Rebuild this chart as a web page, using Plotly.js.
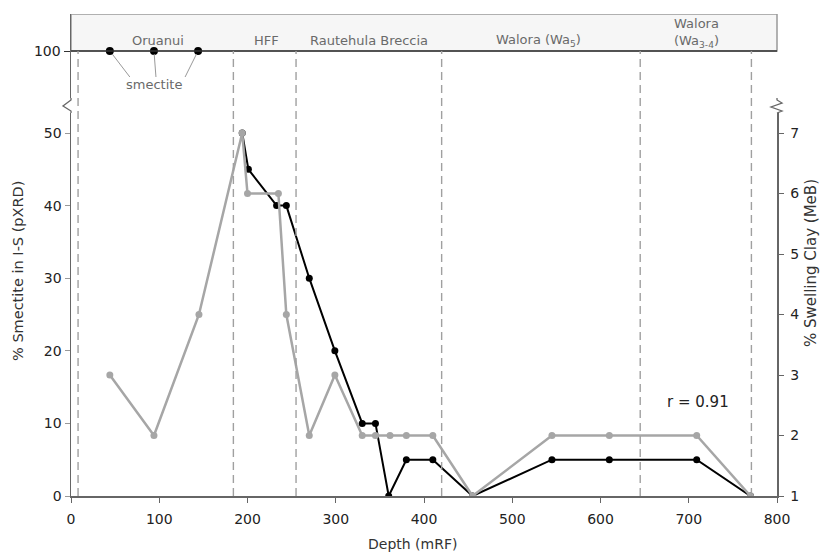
<!DOCTYPE html>
<html>
<head>
<meta charset="utf-8">
<script src="https://cdn.plot.ly/plotly-3.0.1.min.js"></script>
<style>html,body{margin:0;padding:0;background:#fff;}#chart{width:823px;height:554px;}</style>
</head>
<body>
<div id="chart"></div>
<script>
// ---- data ----
const depthMeB = [44, 94, 145, 194, 200, 235, 244, 270, 299, 330, 345, 361.5, 380, 410, 455, 545, 610, 709, 770];
const swellingClayMeB = [3, 2, 4, 7, 6, 6, 4, 2, 3, 2, 2, 2, 2, 2, 1, 2, 2, 2, 1];
const depthXRD = [194, 201, 233, 244, 270, 299, 330, 345, 360, 380, 410, 455, 545, 610, 709, 770];
const smectiteXRD = [50, 45, 40, 40, 30, 20, 10, 10, 0, 5, 5, 0, 5, 5, 5, 0];
const depthSmectiteTop = [44, 94, 144];
const smectiteTop = [100, 100, 100];
const unitBoundaries = [8, 184, 255, 420, 645, 771];
const unitNames = ["Oruanui", "HFF", "Rautehula Breccia", "Walora (Wa<sub>5</sub>)", "Walora<br>(Wa<sub>3-4</sub>)"];
const unitLabelDepths = [99, 221, 338, 530, 709];
const leftTicks = [0, 10, 20, 30, 40, 50];
const rightTicks = [1, 2, 3, 4, 5, 6, 7];
const xTicks = [0, 100, 200, 300, 400, 500, 600, 700, 800];
const rValue = "r = 0.91";

// ---- geometry (styling) ----
const W = 823, H = 554;
const mL = 71, mR = 46, mT = 14, mB = 58;
const plotH = H - mT - mB;
const lowTopPx = 113, upBotPx = 98;
const dLow = [0, (H - mB - lowTopPx) / plotH];
const dUp = [(H - mB - upBotPx) / plotH, 1];
const pxPerUnit = 7.26;
const lowRange = [0, (H - mB - lowTopPx) / pxPerUnit];
const rightScale = pxPerUnit * 50 / 6;
const lowRangeR = [1, 1 + (H - mB - lowTopPx) / rightScale];
const y100px = 51;
const upRange = [100 - (upBotPx - y100px) / pxPerUnit, 100 + (y100px - mT) / pxPerUnit];
const upRangeR = [13 - (upBotPx - y100px) / rightScale, 13 + (y100px - mT) / rightScale];
const paperY = py => (H - mB - py) / plotH;
const paperX = px => (px - mL) / (W - mL - mR);
const y100paper = dUp[0] + (100 - upRange[0]) / (upRange[1] - upRange[0]) * (dUp[1] - dUp[0]);

const grey = '#a6a6a6';
const axisCol = '#666';
const font = 'DejaVu Sans, Verdana, sans-serif';

const traces = [
  {x: depthXRD, y: smectiteXRD, xaxis: 'x', yaxis: 'y', mode: 'lines+markers',
   line: {color: '#000', width: 2}, marker: {color: '#000', size: 7}, hoverinfo: 'skip'},
  {x: depthMeB, y: swellingClayMeB, xaxis: 'x', yaxis: 'y2', mode: 'lines+markers',
   line: {color: grey, width: 2.5}, marker: {color: grey, size: 7}, hoverinfo: 'skip'},
  {x: depthSmectiteTop, y: smectiteTop, xaxis: 'x', yaxis: 'y3', mode: 'markers',
   marker: {color: '#000', size: 8}, hoverinfo: 'skip', cliponaxis: false}
];

const shapes = [];
// top band
shapes.push({type: 'rect', xref: 'x domain', yref: 'y3', x0: 0, x1: 1, y0: 100, y1: upRange[1],
  fillcolor: '#f6f6f6', line: {color: '#999', width: 1.5}, layer: 'below'});
// 100 line
shapes.push({type: 'line', xref: 'x domain', yref: 'y3', x0: 0, x1: 1, y0: 100, y1: 100,
  line: {color: '#333', width: 1.3}});
// dashed unit boundaries
unitBoundaries.forEach(b => shapes.push({type: 'line', xref: 'x', yref: 'paper', x0: b, x1: b,
  y0: 0, y1: y100paper, line: {color: '#a0a0a0', width: 1.4, dash: '8px,5px'}}));
// axis breaks (zigzags)
function zig(pts) {
  return 'M ' + pts.map(p => paperX(p[0]) + ',' + paperY(p[1])).join(' L ');
}
shapes.push({type: 'path', xref: 'paper', yref: 'paper',
  path: zig([[71, 98], [71, 100], [63, 106], [71, 111], [71, 113]]), line: {color: axisCol, width: 1.3}});
shapes.push({type: 'path', xref: 'paper', yref: 'paper',
  path: zig([[777, 98], [777, 100], [782, 103], [771, 107], [782, 111], [777, 113]]), line: {color: axisCol, width: 1.3}});
// smectite leader lines (pixel offsets anchored on the data points)
const leaderEnds = [[20, -26], [2, -26], [-13, -26]];
depthSmectiteTop.forEach((d, i) => shapes.push({type: 'line', xref: 'x', yref: 'y3',
  xsizemode: 'pixel', xanchor: d, ysizemode: 'pixel', yanchor: smectiteTop[i],
  x0: leaderEnds[i][0] * 0.12, y0: -3, x1: leaderEnds[i][0], y1: leaderEnds[i][1],
  line: {color: '#999', width: 1}}));

const annotations = [];
unitNames.forEach((n, i) => annotations.push({x: unitLabelDepths[i], xref: 'x', y: paperY(n.indexOf('<br>') >= 0 ? 33 : 40), yref: 'paper',
  text: n, showarrow: false, font: {family: font, size: 13, color: '#6a6a6a'}, xanchor: 'center', yanchor: 'middle'}));
annotations.push({x: depthSmectiteTop[1], y: 100, xref: 'x', yref: 'y3', yshift: -33, text: 'smectite',
  showarrow: false, font: {family: font, size: 13, color: '#6a6a6a'}, xanchor: 'center', yanchor: 'middle'});
annotations.push({x: 711, y: 13, xref: 'x', yref: 'y', text: rValue, showarrow: false,
  font: {family: font, size: 15, color: '#222'}, xanchor: 'center', yanchor: 'middle'});
// axis titles
annotations.push({x: paperX(412), y: paperY(544), xref: 'paper', yref: 'paper', text: 'Depth (mRF)', showarrow: false,
  font: {family: font, size: 14, color: '#333'}, xanchor: 'center', yanchor: 'middle'});
annotations.push({x: paperX(18), y: paperY(271), xref: 'paper', yref: 'paper', text: '% Smectite in I-S (pXRD)', textangle: -90, showarrow: false,
  font: {family: font, size: 14.5, color: '#333'}, xanchor: 'center', yanchor: 'middle'});
annotations.push({x: paperX(811), y: paperY(263), xref: 'paper', yref: 'paper', text: '% Swelling Clay (MeB)', textangle: -90, showarrow: false,
  font: {family: font, size: 15, color: '#333'}, xanchor: 'center', yanchor: 'middle'});

const tickFont = {family: font, size: 14, color: '#222'};
const layout = {
  width: W, height: H, margin: {l: mL, r: mR, t: mT, b: mB},
  paper_bgcolor: '#fff', plot_bgcolor: 'rgba(0,0,0,0)', showlegend: false,
  xaxis: {range: [0, 800], tickvals: xTicks, ticks: 'outside', ticklen: 5, tickcolor: axisCol,
    showline: true, linecolor: axisCol, linewidth: 1.5, showgrid: false, zeroline: false,
    tickfont: tickFont, anchor: 'y', ticklabelstandoff: 5},
  yaxis: {domain: dLow, range: lowRange, tickvals: leftTicks, ticks: 'outside', ticklen: 5, tickcolor: '#999',
    showline: true, linecolor: axisCol, linewidth: 1.5, showgrid: false, zeroline: false, tickfont: tickFont},
  yaxis2: {domain: dLow, range: lowRangeR, overlaying: 'y', side: 'right', anchor: 'x', tickvals: rightTicks,
    ticks: 'outside', ticklen: 5, tickcolor: axisCol, showline: true, linecolor: axisCol, linewidth: 1.5,
    showgrid: false, zeroline: false, tickfont: tickFont, ticklabelstandoff: 4},
  yaxis5: {domain: dLow, range: lowRangeR, overlaying: 'y', side: 'right', anchor: 'x', tickvals: rightTicks,
    ticks: 'inside', ticklen: 5, tickcolor: axisCol, showticklabels: false, showline: false, showgrid: false, zeroline: false},
  yaxis3: {domain: dUp, range: upRange, anchor: 'x', tickvals: [100], ticks: 'outside', ticklen: 6, tickcolor: '#333',
    showline: true, linecolor: axisCol, linewidth: 1.5, showgrid: false, zeroline: false, tickfont: tickFont},
  yaxis4: {domain: dUp, range: upRangeR, overlaying: 'y3', side: 'right', anchor: 'x', tickvals: [13], ticks: 'outside', ticklen: 6,
    tickcolor: '#999', showline: true, linecolor: axisCol, linewidth: 1.5, showgrid: false, zeroline: false, tickfont: tickFont,
    ticklabelstandoff: 4},
  shapes: shapes, annotations: annotations
};
Plotly.newPlot('chart', traces, layout, {staticPlot: true, displayModeBar: false});
</script>
</body>
</html>
